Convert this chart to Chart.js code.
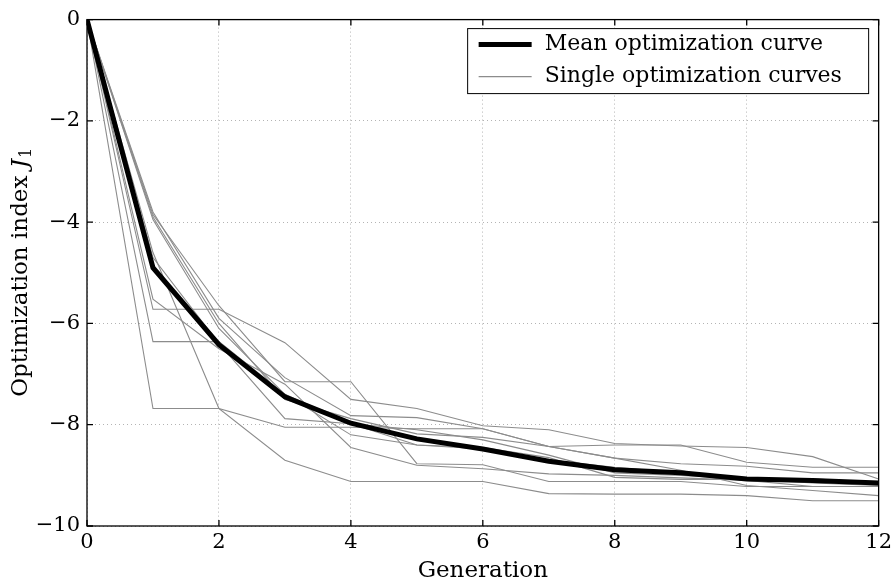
<!DOCTYPE html>
<html>
<head>
<meta charset="utf-8">
<script src="https://cdn.jsdelivr.net/npm/chart.js@4.4.0/dist/chart.umd.min.js"></script>
<style>
  html, body { margin: 0; padding: 0; background: #fff; }
  #wrap { width: 896px; height: 585px; }
</style>
</head>
<body>
<div id="wrap"><canvas id="myChart" width="896" height="585"></canvas></div>
<script>
// generations on the x axis
var generations = [0, 1, 2, 3, 4, 5, 6, 7, 8, 9, 10, 11, 12];

// mean curve
var meanCurve = [0, -4.9, -6.42, -7.45, -7.97, -8.28, -8.48, -8.72, -8.89, -8.95, -9.07, -9.1, -9.15];

// single runs (estimated)
var run1  = [0, -3.8, -5.9, -7.07, -7.82, -7.86, -8.08, -8.43, -8.66, -8.77, -8.82, -8.95, -8.95];
var run2  = [0, -3.85, -5.65, -7.15, -7.15, -8.77, -8.79, -9.12, -9.12, -9.12, -9.22, -9.22, -9.22];
var run3  = [0, -5.72, -5.72, -6.38, -7.5, -7.68, -8.02, -8.1, -8.37, -8.42, -8.45, -8.63, -9.07];
var run4  = [0, -3.9, -6.0, -7.5, -7.88, -8.18, -8.25, -8.43, -8.4, -8.4, -8.74, -8.84, -8.84];
var run5  = [0, -3.95, -6.1, -7.4, -8.2, -8.4, -8.45, -8.65, -9.04, -9.08, -9.08, -9.1, -9.15];
var run6  = [0, -4.6, -7.68, -8.05, -8.05, -8.08, -8.08, -8.43, -8.66, -8.9, -9.2, -9.3, -9.4];
var run7  = [0, -4.7, -6.4, -7.88, -7.98, -8.4, -8.48, -8.7, -8.84, -8.95, -9.07, -9.07, -9.14];
var run8  = [0, -5.52, -6.5, -7.2, -8.45, -8.8, -8.87, -8.97, -9.0, -9.05, -9.1, -9.22, -9.22];
var run9  = [0, -6.36, -6.36, -7.4, -7.98, -8.1, -8.3, -8.6, -8.95, -9.0, -9.07, -9.15, -9.2];
var run10 = [0, -7.68, -7.68, -8.7, -9.12, -9.12, -9.12, -9.36, -9.37, -9.37, -9.4, -9.5, -9.5];
var singleRuns = [run1, run2, run3, run4, run5, run6, run7, run8, run9, run10];

var xTicks = [0, 2, 4, 6, 8, 10, 12];
var yTicks = [0, -2, -4, -6, -8, -10];

var FONT = "'DejaVu Serif', serif";
var GREY = "#8c8c8c";

function pts(arr) {
    return arr.map(function(v, i){ return {x: generations[i], y: v}; });
}

var datasets = [{
    label: "Mean optimization curve",
    data: pts(meanCurve),
    borderColor: "#000",
    borderWidth: 5,
    pointRadius: 0,
    tension: 0
}];
singleRuns.forEach(function(r){
    datasets.push({
        label: "Single optimization curves",
        data: pts(r),
        borderColor: GREY,
        borderWidth: 1.1,
        pointRadius: 0,
        tension: 0
    });
});

// frame, inward ticks, y label and legend
var decoPlugin = {
    id: "deco",
    afterDraw: function(chart){
        var c = chart.ctx, a = chart.chartArea;
        var xs = chart.scales.x, ys = chart.scales.y;
        c.save();
        c.strokeStyle = "#000";
        c.lineWidth = 1.3;
        c.strokeRect(a.left, a.top, a.right - a.left, a.bottom - a.top);
        c.beginPath();
        xTicks.forEach(function(t){
            var px = xs.getPixelForValue(t);
            c.moveTo(px, a.bottom); c.lineTo(px, a.bottom - 6);
            c.moveTo(px, a.top); c.lineTo(px, a.top + 6);
        });
        yTicks.forEach(function(t){
            var py = ys.getPixelForValue(t);
            c.moveTo(a.left, py); c.lineTo(a.left + 6, py);
            c.moveTo(a.right, py); c.lineTo(a.right - 6, py);
        });
        c.stroke();

        // y axis title: Optimization index J_1
        c.translate(21, (a.top + a.bottom) / 2);
        c.rotate(-Math.PI / 2);
        c.fillStyle = "#000";
        c.textBaseline = "middle";
        var s1 = "Optimization index ";
        c.font = "23px " + FONT;
        var w1 = c.measureText(s1).width;
        c.font = "italic 23px " + FONT;
        var w2 = c.measureText("J").width;
        c.font = "16px " + FONT;
        var w3 = c.measureText("1").width;
        var x0 = -(w1 + w2 + w3) / 2;
        c.font = "23px " + FONT;
        c.fillText(s1, x0, 0);
        c.font = "italic 23px " + FONT;
        c.fillText("J", x0 + w1, 0);
        c.font = "16px " + FONT;
        c.fillText("1", x0 + w1 + w2 + 1, 6);
        c.restore();

        // legend box
        c.save();
        var lx = a.right - 411, ly = a.top + 9, lw = 401, lh = 65;
        c.fillStyle = "#fff";
        c.fillRect(lx, ly, lw, lh);
        c.strokeStyle = "#000";
        c.lineWidth = 1;
        c.strokeRect(lx, ly, lw, lh);
        c.font = "22px " + FONT;
        c.fillStyle = "#000";
        c.textBaseline = "middle";
        var entries = [datasets[0], datasets[1]];
        entries.forEach(function(d, i){
            var yy = ly + 16 + i * 32;
            c.beginPath();
            c.strokeStyle = d.borderColor;
            c.lineWidth = d.borderWidth;
            c.moveTo(lx + 11, yy); c.lineTo(lx + 64, yy);
            c.stroke();
            c.fillText(d.label, lx + 77, yy);
        });
        c.restore();
    }
};

var ctx = document.getElementById("myChart").getContext("2d");
var myChart = new Chart(ctx, {
    type: "line",
    data: { datasets: datasets },
    options: {
        responsive: false,
        animation: false,
        layout: { padding: { top: 18, right: 16, left: 0, bottom: 0 } },
        plugins: { legend: { display: false }, tooltip: { enabled: false } },
        scales: {
            x: {
                type: "linear",
                min: 0, max: 12,
                afterBuildTicks: function(s){ s.ticks = xTicks.map(function(v){ return {value: v}; }); },
                afterFit: function(s){ s.height = 59; },
                border: { display: false, dash: [1, 3] },
                grid: { color: "#b4b4b4", drawTicks: false },
                ticks: { color: "#000", font: { family: FONT, size: 21 }, padding: 4, maxRotation: 0 },
                title: { display: true, text: "Generation", color: "#000", font: { family: FONT, size: 23 }, padding: { top: 0, bottom: 0 } }
            },
            y: {
                min: -10, max: 0,
                afterBuildTicks: function(s){ s.ticks = yTicks.map(function(v){ return {value: v}; }); },
                afterFit: function(s){ s.width = 87; },
                border: { display: false, dash: [1, 3] },
                grid: { color: "#b4b4b4", drawTicks: false },
                ticks: {
                    color: "#000", font: { family: FONT, size: 21 }, padding: 7,
                    callback: function(v){ return v < 0 ? "\u2212" + Math.abs(v) : String(v); }
                }
            }
        }
    },
    plugins: [decoPlugin]
});
</script>
</body>
</html>
